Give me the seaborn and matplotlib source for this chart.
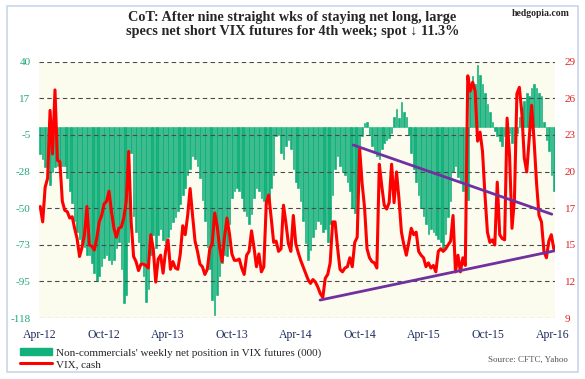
import numpy as np
import pandas as pd
import matplotlib
matplotlib.use("Agg")
import matplotlib.pyplot as plt
import seaborn as sns
from matplotlib.patches import Patch, Rectangle
from matplotlib.lines import Line2D

# weekly CoT data, first week = 2012-04-03
START = pd.Timestamp("2012-04-03")

NET_POS = [
    -17, -20, -25, -29, -36, -28, -25, -24, -24, -24,
    -24, -32, -40, -47, -58, -65, -69, -71, -74, -79,
    -79, -84, -90, -95, -92, -86, -81, -79, -82, -85,
    -82, -75, -71, -88, -109, -104, -71, -16, -55, -65,
    -71, -84, -92, -108, -100, -79, -67, -75, -67, -63,
    -70, -72, -68, -63, -59, -56, -52, -48, -42, -38,
    -30, -26, -18, -20, -24, -32, -45, -58, -74, -88,
    -107, -116, -104, -92, -84, -79, -80, -60, -44, -40,
    -38, -40, -44, -52, -55, -60, -54, -44, -38, -40,
    -44, -46, -48, -45, -38, -30, -6, -5, -16, -20,
    -12, -8, -14, -26, -34, -38, -46, -58, -72, -82,
    -76, -68, -63, -58, -60, -65, -63, -71, -60, -42,
    -26, -18, -24, -28, -30, -34, -40, -50, -53, -44,
    -12, -6, 2, 3, -5, -12, -16, -18, -20, -14,
    -10, -8, -7, -4, 6, 11, 5, 15, 9, 6,
    -5, -16, -26, -34, -42, -50, -55, -60, -66, -63,
    -65, -67, -69, -71, -75, -66, -56, -46, -28, -24,
    -31, -34, -40, -58, -45, 22, 31, 26, 38, 32,
    26, 21, 14, 9, 3, -3, -6, -9, -12, -6,
    1, -4, -10, -14, -4, 6, 12, 16, 21, 19,
    24, 26, 24, 21, 19, 3, -8, -15, -30, -40,
]

VIX = [
    17.7, 16.5, 19.2, 19.9, 25.2, 21.8, 26.8, 21.3, 21.2, 18.1,
    17.4, 17.3, 16.8, 16.9, 16.0, 15.2, 13.8, 14.5, 15.5, 17.7,
    14.7, 14.6, 14.3, 15.2, 16.5, 17.0, 17.9, 18.1, 18.9, 17.3,
    16.0, 15.3, 16.0, 16.1, 16.8, 18.1, 22.0, 16.5, 13.8, 13.4,
    12.7, 13.2, 13.2, 13.1, 12.9, 15.5, 14.4, 11.8, 13.6, 13.9,
    12.5, 14.2, 15.1, 12.8, 13.4, 12.9, 12.8, 14.0, 16.2, 15.5,
    17.0, 19.1, 17.0, 15.0, 14.2, 13.2, 13.0, 12.4, 12.8, 14.4,
    14.8, 17.2, 16.2, 14.5, 13.4, 15.3, 16.8, 15.6, 14.0, 13.5,
    13.5, 13.6, 12.9, 12.4, 13.9, 14.2, 15.8, 14.5, 13.0, 14.0,
    12.6, 13.0, 18.0, 18.6, 16.8, 14.9, 15.0, 14.2, 14.4, 17.8,
    16.4, 14.8, 14.2, 17.0, 14.8, 14.1, 13.5, 13.0, 12.5, 12.0,
    11.7, 12.0, 11.8, 11.4, 10.9, 10.6, 12.1, 12.4, 13.3, 16.5,
    16.5, 14.5, 12.8, 12.6, 12.9, 13.0, 13.7, 13.0, 14.9, 15.3,
    22.2, 19.5, 17.6, 14.4, 13.7, 13.4, 13.3, 12.9, 21.0, 19.3,
    17.8, 17.5, 18.0, 21.0, 18.0, 20.4, 18.3, 15.7, 14.7, 13.9,
    14.9, 16.0, 15.5, 15.7, 14.2, 13.9, 13.7, 13.0, 13.3, 12.9,
    13.1, 12.6, 14.2, 14.4, 14.2, 14.4, 14.7, 15.0, 17.0, 12.6,
    13.9, 12.6, 13.7, 13.1, 27.9, 26.7, 27.4, 26.7, 22.8, 23.5,
    22.0, 18.6, 15.7, 14.9, 15.1, 14.7, 19.6, 15.5, 15.2, 15.1,
    24.6, 21.7, 16.0, 18.3, 26.5, 27.0, 25.0, 21.5, 20.4, 23.0,
    25.6, 22.8, 19.5, 17.0, 16.5, 14.2, 13.7, 15.0, 15.5, 14.4,
]

# trend lines on the VIX (weeks from start, VIX level)
TREND_UP_W = [127.4, 208.2]
TREND_UP_V = [22.5, 17.1]
TREND_LO_W = [113.9, 209.5]
TREND_LO_V = [10.4, 14.25]

LEFT_TICKS = np.linspace(40, -118, 8)
LEFT_LABELS = ["40", "17", "-5", "-28", "-50", "-73", "-95", "-118"]
RIGHT_TICKS = np.linspace(29, 9, 8)
RIGHT_LABELS = ["29", "26", "23", "20", "17", "15", "12", "9"]
XTICK_DATES = ["2012-04-01", "2012-10-01", "2013-04-01", "2013-10-01", "2014-04-01",
               "2014-10-01", "2015-04-01", "2015-10-01", "2016-04-01"]
XTICK_LABELS = ["Apr-12", "Oct-12", "Apr-13", "Oct-13", "Apr-14",
                "Oct-14", "Apr-15", "Oct-15", "Apr-16"]

GREEN = "#12b07a"
RED = "#ff0000"
PURPLE = "#7030a0"

sns.set_theme(style="white")
plt.rcParams["font.family"] = ["Liberation Serif", "DejaVu Serif"]

df = pd.DataFrame({"week": np.arange(len(NET_POS)), "net": NET_POS, "vix": VIX})
tick_pos = (pd.to_datetime(XTICK_DATES) - START).days / 7.0

fig = plt.figure(figsize=(5.85, 3.79), dpi=100)
ax = fig.add_axes([39 / 585, 1 - 318 / 379, 516 / 585, 256.3 / 379])
ax.set_facecolor("#fcfcee")

sns.barplot(data=df, x="week", y="net", native_scale=True, color=GREEN,
            saturation=1, width=0.66, edgecolor=GREEN, linewidth=0.45,
            ax=ax, zorder=2)
for t in LEFT_TICKS:
    ax.axhline(t, color="#4a4a4a", ls=(0, (4, 3)), lw=0.8, zorder=3)

ax2 = ax.twinx()
sns.lineplot(data=df, x="week", y="vix", color=RED, lw=2.2, ax=ax2)
sns.lineplot(x=TREND_UP_W, y=TREND_UP_V, color=PURPLE, lw=2, ax=ax2)
sns.lineplot(x=TREND_LO_W, y=TREND_LO_V, color=PURPLE, lw=2, ax=ax2)

ax.set_xlim(-0.5, 209.5)
ax.set_ylim(-118, 40)
ax2.set_ylim(9, 29)
ax.set_yticks(LEFT_TICKS, LEFT_LABELS)
ax2.set_yticks(RIGHT_TICKS, RIGHT_LABELS)
ax.set_xticks(tick_pos, XTICK_LABELS)
for a in (ax, ax2):
    a.set_xlabel("")
    a.set_ylabel("")
    for s in a.spines.values():
        s.set_visible(False)
ax.tick_params(axis="y", length=0, pad=6, labelsize=8, labelcolor="#22a878")
ax.tick_params(axis="x", length=0, pad=8, labelsize=8.5, labelcolor="#1f2f5f")
ax2.tick_params(axis="y", length=0, pad=7, labelsize=8, labelcolor="#e02020")

fig.text(0.5, 1 - 17 / 379, "CoT: After nine straight wks of staying net long, large",
         ha="center", va="center", fontsize=10.3, fontweight="bold")
fig.text(0.5, 1 - 32 / 379, "specs net short VIX futures for 4th week; spot \u2193 11.3%",
         ha="center", va="center", fontsize=10.3, fontweight="bold")
fig.text(570 / 585, 1 - 14 / 379, "hedgopia.com", ha="right", va="center",
         fontsize=7, fontweight="bold")
fig.text(568 / 585, 1 - 360 / 379, "Source: CFTC, Yahoo", ha="right", va="center",
         fontsize=6.5, color="#555555")

handles = [Patch(facecolor=GREEN, edgecolor=GREEN), Line2D([0], [0], color=RED, lw=2.2)]
labels = ["Non-commercials' weekly net position in VIX futures (000)", "VIX, cash"]
fig.legend(handles=handles, labels=labels, loc="upper left",
           bbox_to_anchor=(20 / 585, 1 - 348 / 379), frameon=False, fontsize=8,
           handlelength=2.9, handleheight=0.55, labelspacing=0.15,
           handletextpad=0.35, borderaxespad=0, borderpad=0)

fig.add_artist(Rectangle((7 / 585, 1 - 372 / 379), 571 / 585, 366 / 379,
                         transform=fig.transFigure, fill=False,
                         edgecolor="#c8d6ea", lw=1.2))

fig.savefig("out.png", dpi=100)
